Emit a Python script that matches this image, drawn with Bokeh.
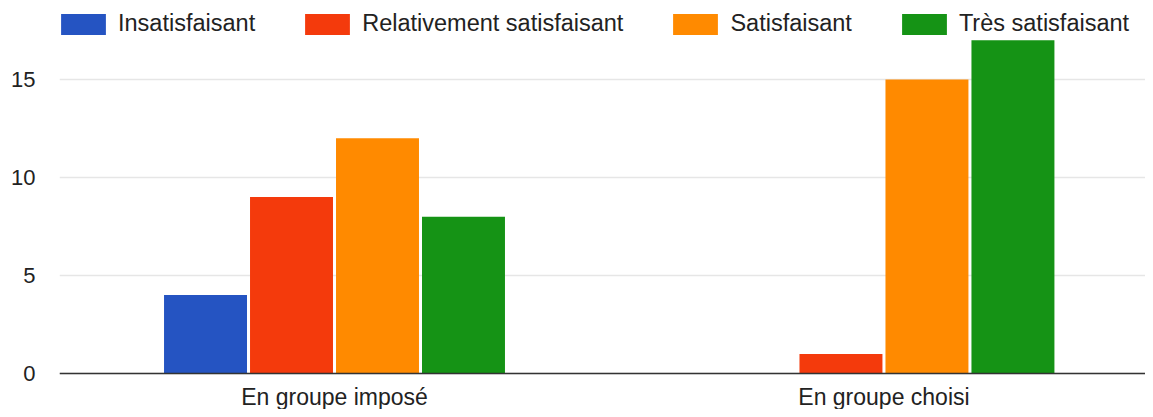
from bokeh.plotting import figure
from bokeh.models import ColumnDataSource, Legend, LegendItem, FixedTicker, Range1d, Span
from bokeh.core.properties import value
from bokeh.embed import file_html
from bokeh.resources import INLINE

categories = ["En groupe imposé", "En groupe choisi"]
series = ["Insatisfaisant", "Relativement satisfaisant", "Satisfaisant", "Très satisfaisant"]
values = {
    "Insatisfaisant": [4, 0],
    "Relativement satisfaisant": [9, 1],
    "Satisfaisant": [12, 15],
    "Très satisfaisant": [8, 17],
}
colors = ["#2554c2", "#f43a0c", "#ff8a00", "#159315"]
y_ticks = [0, 5, 10, 15]

FONT = "Liberation Sans"

p = figure(width=1145, height=409, output_backend="svg", toolbar_location=None,
           x_range=Range1d(-0.0005, 1.976), y_range=Range1d(-1.837, 19.03),
           min_border_left=59, min_border_right=0, min_border_top=0, min_border_bottom=0)
p.outline_line_color = None
p.background_fill_color = "white"
p.border_fill_color = "white"

centers = [i + 0.5 for i in range(len(categories))]
step = 0.1565
width = 0.151
renderers = []
for i, (name, col) in enumerate(zip(series, colors)):
    off = (i - (len(series) - 1) / 2) * step
    src = ColumnDataSource(dict(x=[c + off for c in centers], top=values[name]))
    r = p.vbar(x="x", top="top", width=width, bottom=0, source=src,
               fill_color=col, line_color=None)
    renderers.append(r)

# baseline and category labels
p.add_layout(Span(location=0, dimension="width", line_color="#333333", line_width=1.5))
p.text(x=centers, y=[0] * len(centers), text=categories, y_offset=11,
       text_align="center", text_baseline="top", text_font=value(FONT),
       text_font_size="23px", text_color="#222222")

p.xaxis.visible = False
p.xgrid.grid_line_color = None

p.yaxis.ticker = FixedTicker(ticks=y_ticks)
p.yaxis.axis_line_color = None
p.yaxis.major_tick_line_color = None
p.yaxis.minor_tick_line_color = None
p.yaxis.major_tick_out = 0
p.yaxis.major_tick_in = 0
p.yaxis.major_label_text_font = FONT
p.yaxis.major_label_text_font_size = "22px"
p.yaxis.major_label_text_color = "#222222"
p.yaxis.major_label_standoff = 24
p.ygrid.grid_line_color = "#e6e6e6"
p.ygrid.grid_line_width = 1.5

legend = Legend(items=[LegendItem(label=s, renderers=[r]) for s, r in zip(series, renderers)],
                orientation="horizontal", location=(-4, 372))
legend.label_text_font = FONT
legend.label_text_font_size = "23.5px"
legend.label_text_color = "#222222"
legend.glyph_width = 56
legend.glyph_height = 26
legend.label_height = 26
legend.label_standoff = 7
legend.spacing = 44
legend.padding = 0
legend.margin = 0
legend.border_line_color = None
legend.background_fill_alpha = 0
p.add_layout(legend, "center")

open("out.html", "w").write(file_html(p, INLINE))
